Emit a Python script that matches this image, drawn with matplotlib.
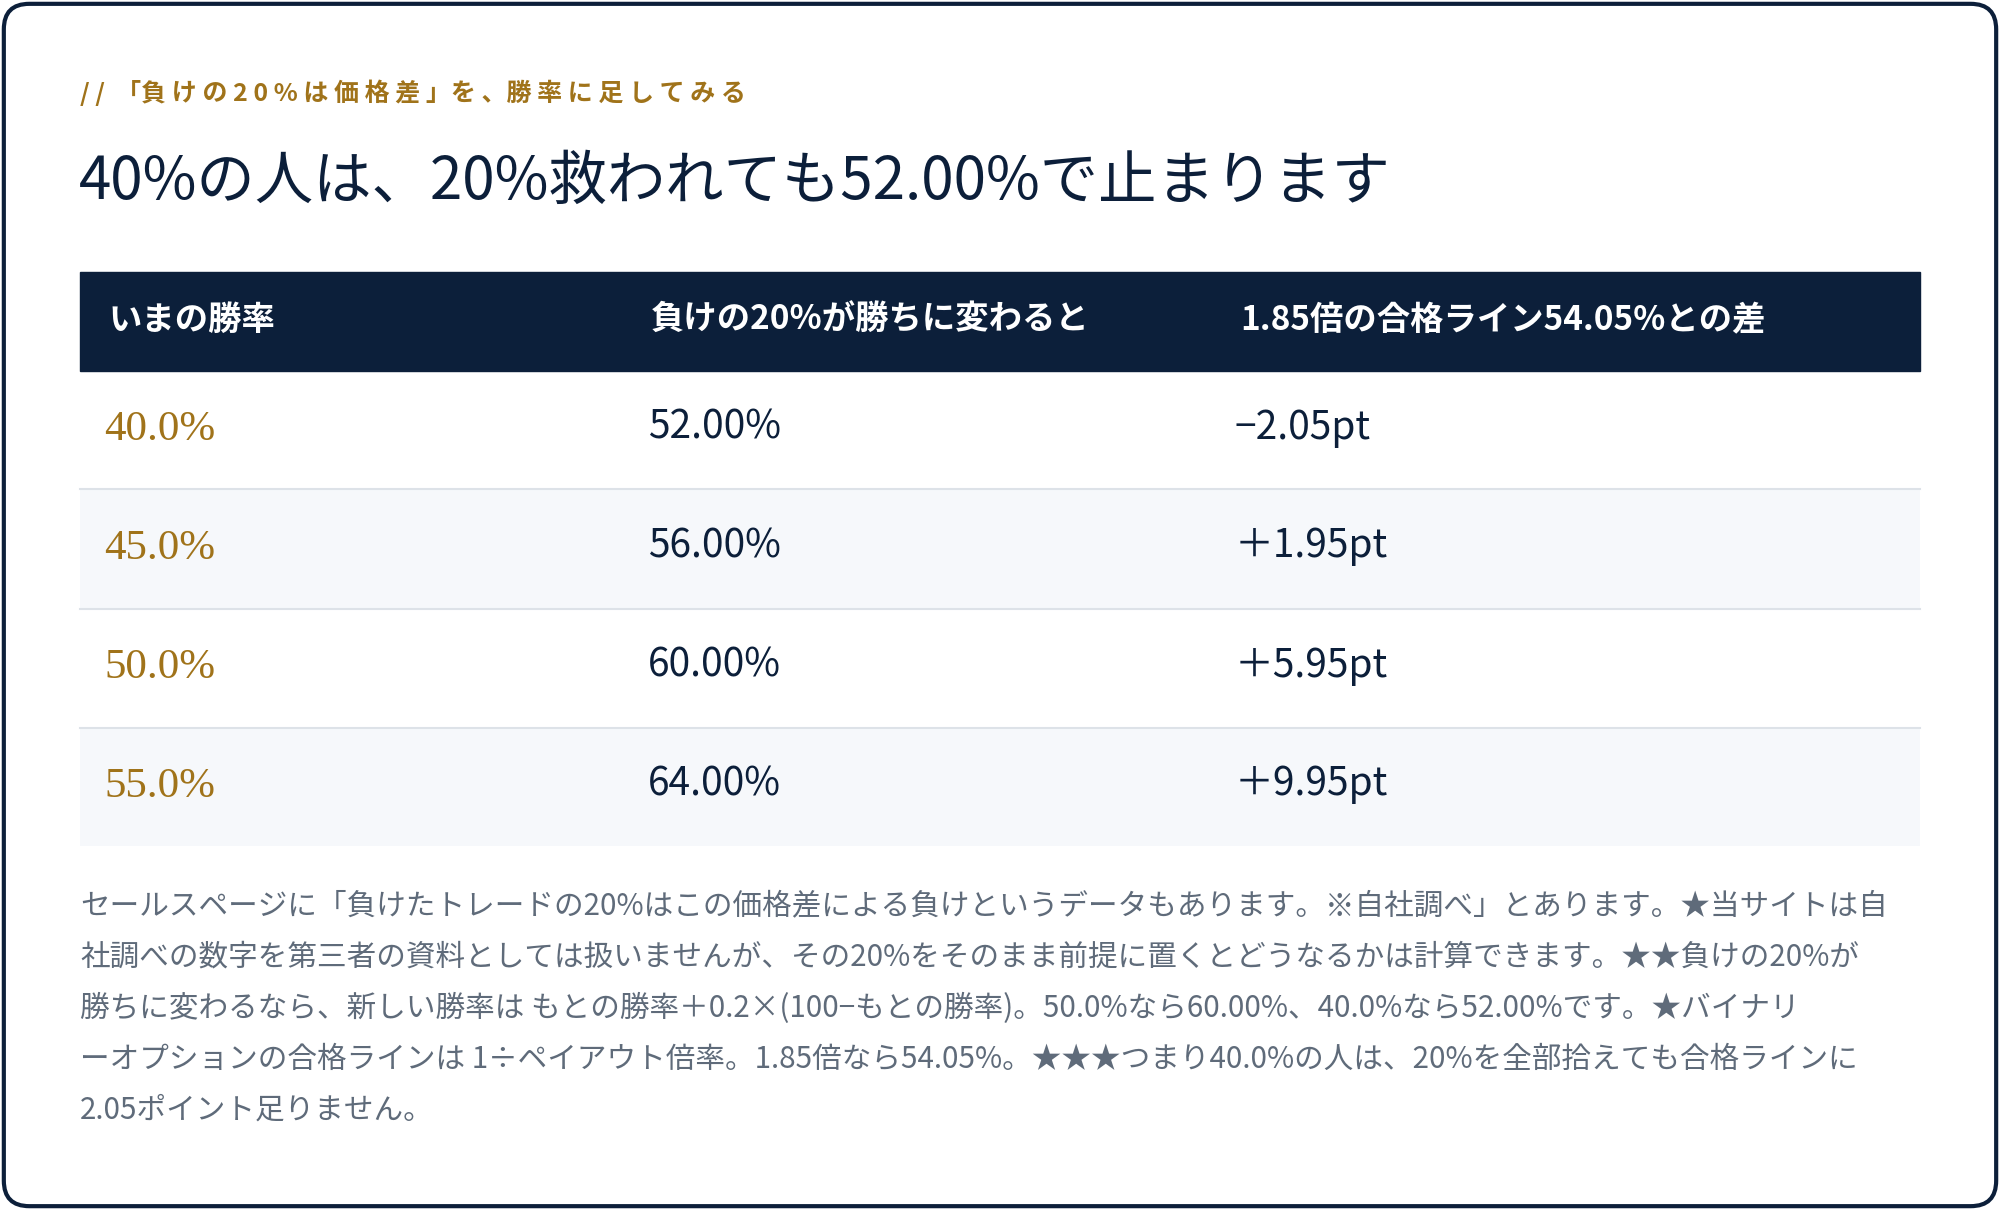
import matplotlib.pyplot as plt
from matplotlib.patches import FancyBboxPatch, Rectangle

plt.rcParams['font.family'] = ['Noto Sans CJK JP', 'DejaVu Sans']

NAVY = '#0c1f3a'
GOLD = '#a0731a'
GREY = '#5f6b7a'

kicker = '/ /  「負 け の 2 0 % は 価 格 差 」を 、勝 率 に 足 し て み る'
title = '40%の人は、20%救われても52.00%で止まります'
headers = ['いまの勝率', '負けの20%が勝ちに変わると', '1.85倍の合格ライン54.05%との差']
win_rates = ['40.0%', '45.0%', '50.0%', '55.0%']
new_rates = ['52.00%', '56.00%', '60.00%', '64.00%']
gaps = ['−2.05pt', '＋1.95pt', '＋5.95pt', '＋9.95pt']
note_lines = [
    'セールスページに「負けたトレードの20%はこの価格差による負けというデータもあります。※自社調べ」とあります。★当サイトは自',
    '社調べの数字を第三者の資料としては扱いませんが、その20%をそのまま前提に置くとどうなるかは計算できます。★★負けの20%が',
    '勝ちに変わるなら、新しい勝率は もとの勝率＋0.2×(100−もとの勝率)。50.0%なら60.00%、40.0%なら52.00%です。★バイナリ',
    'ーオプションの合格ラインは 1÷ペイアウト倍率。1.85倍なら54.05%。★★★つまり40.0%の人は、20%を全部拾えても合格ラインに',
    '2.05ポイント足りません。',
]

fig = plt.figure(figsize=(20, 12.1), dpi=100)
ax = fig.add_axes([0, 0, 1, 1])
ax.set_xlim(0, 1568)
ax.set_ylim(948, 0)
ax.axis('off')

ax.add_patch(FancyBboxPatch((3, 3), 1562, 942, boxstyle='round,pad=0,rounding_size=20',
                            fc='white', ec=NAVY, lw=3))

ax.text(63, 73, kicker, color=GOLD, fontsize=18, fontweight='bold', va='center')
ax.text(62, 143, title, color=NAVY, fontsize=42, va='center')

# table
cols = [85, 510, 972]
ax.add_patch(Rectangle((63, 213), 1442, 78, color=NAVY))
for x, h in zip(cols, headers):
    ax.text(x, 251, h, color='white', fontsize=24, fontweight='bold', va='center')
row_edges = [291, 383, 477, 570, 663]
for i in range(4):
    top, bot = row_edges[i], row_edges[i + 1]
    if i % 2 == 1:
        ax.add_patch(Rectangle((63, top), 1442, bot - top, color='#f6f8fb', lw=0))
    if i < 3:
        ax.plot([63, 1505], [bot, bot], color='#dde2e8', lw=1.5)
    yc = (top + bot) / 2 - 2
    ax.text(82, yc + 2, win_rates[i], color=GOLD, fontsize=31, family='Liberation Serif', va='center')
    ax.text(508, yc, new_rates[i], color=NAVY, fontsize=28, va='center')
    ax.text(968, yc, gaps[i], color=NAVY, fontsize=28, va='center')

for k, line in enumerate(note_lines):
    ax.text(63, 710 + 40 * k, line, color=GREY, fontsize=21.3, va='center')

fig.savefig('out.png', dpi=100)
